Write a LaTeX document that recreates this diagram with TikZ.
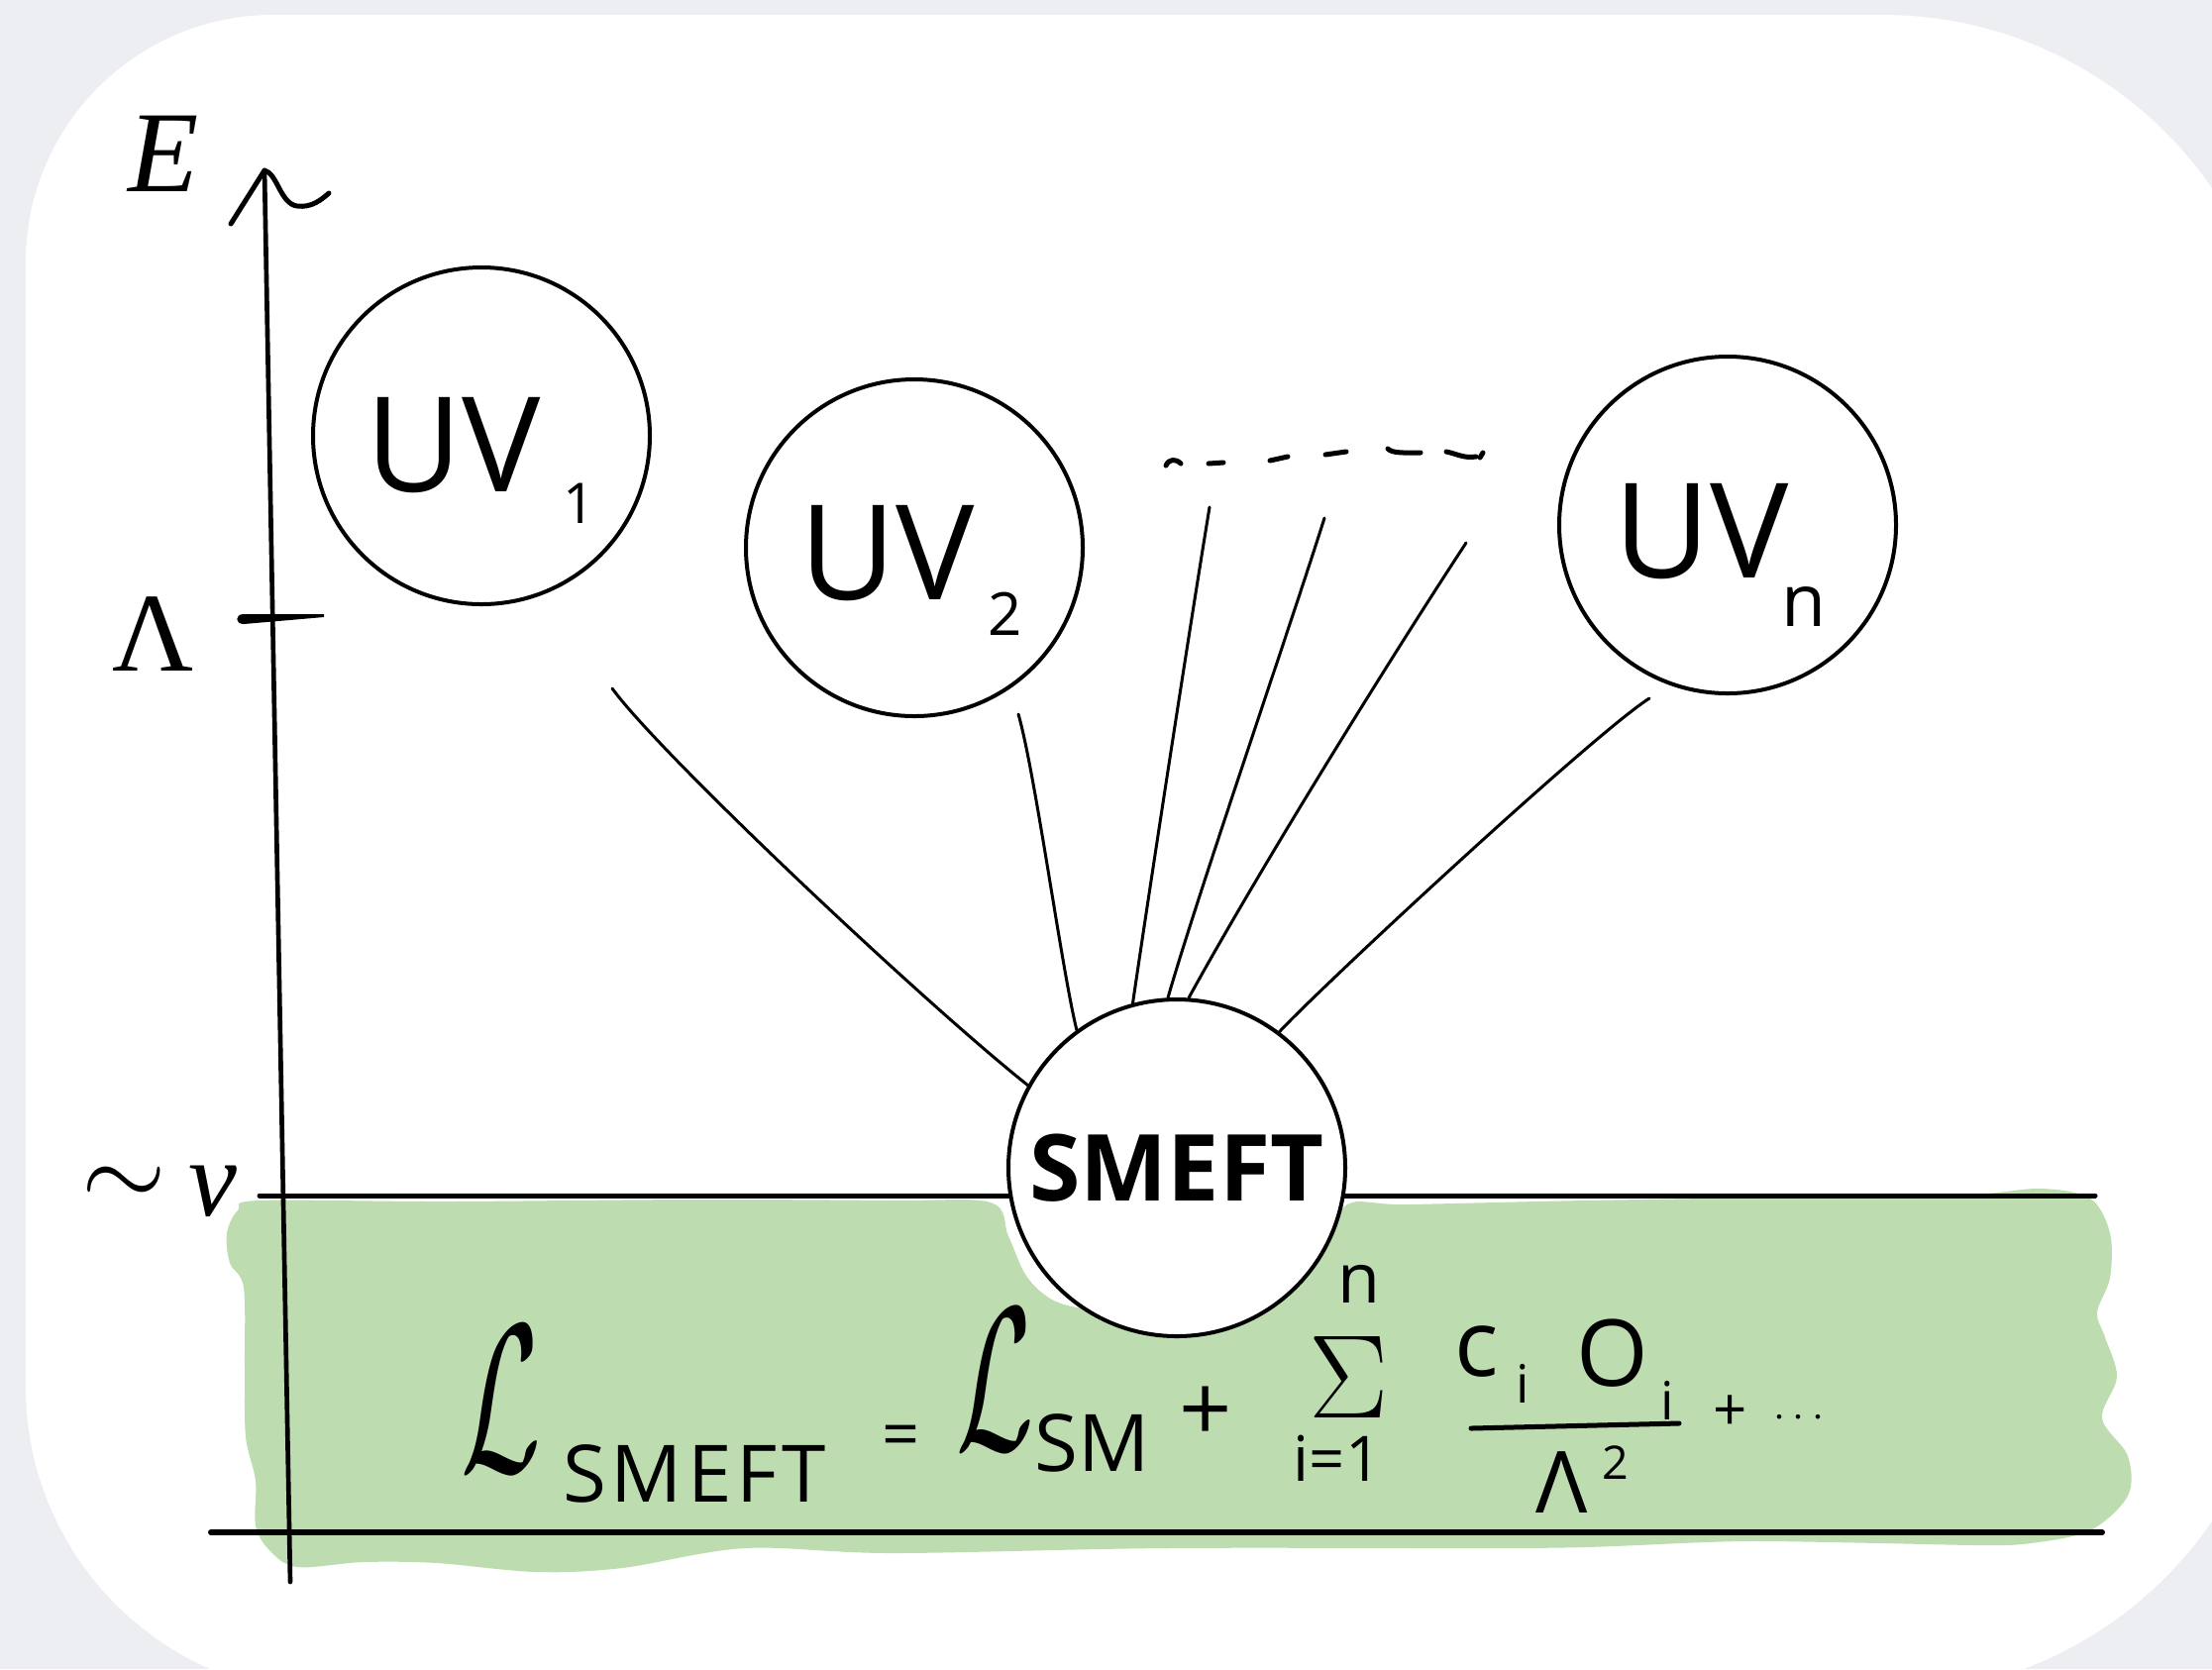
\RequirePackage{fix-cm}
\documentclass[tikz,border=0pt]{standalone}
\usepackage{graphicx}
\usepackage{fontspec}
\setmainfont{Liberation Serif}
\setsansfont{Open Sans}
\definecolor{pagebg}{RGB}{237,238,242}
\definecolor{bandgreen}{RGB}{189,221,177}
\begin{document}
\begin{tikzpicture}[x=0.3pt,y=-0.3pt,
  ring/.style={circle, draw, line width=1.2pt, fill=white, minimum size=102pt, inner sep=0pt},
  conn/.style={line width=0.9pt, line cap=round},
  ink/.style={line width=1.5pt, line cap=round, line join=round},
  hand/.style={inner sep=0pt},
  serif/.style={inner sep=0pt}]

\useasboundingbox (0,0) rectangle (2233,1685);
\clip (0,0) rectangle (2233,1685);

% page and card
\fill[pagebg] (0,0) rectangle (2233,1685);
\fill[white] (26,265) arc[start angle=180,end angle=270,radius=250]
  -- (1900,15) arc[start angle=270,end angle=360,radius=404]
  -- (2304,1307) arc[start angle=0,end angle=90,radius=404]
  -- (337,1711) arc[start angle=90,end angle=180,radius=311] -- cycle;

% low-energy band
\fill[bandgreen] plot[smooth cycle, tension=0.55] coordinates {
  (262,1212) (450,1213) (700,1211) (900,1212) (1000,1214) (1018,1248)
  (1036,1288) (1062,1312) (1100,1322) (1188,1330) (1290,1310) (1335,1262)
  (1360,1216) (1420,1216) (1600,1212) (1850,1208) (1990,1206) (2060,1200)
  (2110,1210) (2130,1245) (2130,1290) (2117,1325) (2125,1350) (2137,1390)
  (2122,1432) (2148,1470) (2148,1510) (2110,1545) (2050,1558) (2000,1560)
  (1900,1558) (1784,1556) (1722,1557) (1600,1562) (1486,1563) (1175,1563)
  (901,1568) (752,1563) (628,1583) (541,1587) (441,1578) (367,1577)
  (300,1582) (272,1565) (258,1540) (258,1495) (248,1450) (247,1380)
  (246,1300) (232,1275) (229,1245) (240,1222)};

% scale lines
\coordinate (vL) at (262,1207);
\coordinate (vR) at (2115,1207);
\coordinate (bL) at (213,1547);
\coordinate (bR) at (2122,1547);
\draw[line width=1.5pt, line cap=round] (vL) -- (vR);
\draw[line width=1.8pt, line cap=round] (bL) -- (bR);

% energy axis
\coordinate (axbot) at (293,1597);
\coordinate (axtop) at (267,172);
\draw[line width=1.4pt, line cap=round] (axbot) -- (axtop);
\draw[ink] (233,226) -- (axtop) .. controls (280,175) and (283,206) .. (300,208)
  .. controls (315,210) and (325,201) .. (332,195);
% cutoff tick
\fill (327,620) -- (246,620) .. controls (237,620) and (237,630) .. (246,630) -- (327,623) -- cycle;

% axis labels
\node[serif, font=\itshape\fontsize{35}{40}\selectfont] (elab) at (165,155) {E};
\node[serif, font=\fontsize{34}{40}\selectfont] (lamlab) at (155,640) {Λ};
\node[serif, font=\fontsize{33}{36}\selectfont] (simlab) at (125,1198) {$\sim$};
\node[serif, font=\itshape\fontsize{33}{40}\selectfont] (vlab) at (215,1203) {v};

% theories
\node[ring] (uv1) at (486,440) {};
\node[ring] (uv2) at (923,553) {};
\node[ring] (uvn) at (1744,530) {};
\node[ring, font=\sffamily\bfseries\fontsize{28}{34}\selectfont] (smeft) at (1188,1179) {SMEFT};

\node[hand, font=\sffamily\fontsize{40}{48}\selectfont] (uv1t) at (458,450) {UV};
\node[hand, font=\sffamily\fontsize{17}{20}\selectfont] (uv1s) at (585,508) {1};
\node[hand, font=\sffamily\fontsize{40}{48}\selectfont] (uv2t) at (896,559) {UV};
\node[hand, font=\sffamily\fontsize{18}{20}\selectfont] (uv2s) at (1015,620) {2};
\node[hand, font=\sffamily\fontsize{40}{48}\selectfont] (uvnt) at (1718,537) {UV};
\node[hand, font=\sffamily\fontsize{22}{24}\selectfont] (uvns) at (1821,612) {n};

% matching lines
\coordinate (s1) at (618,695);
\coordinate (s2) at (1028,721);
\coordinate (s3) at (1221,512);
\coordinate (s4) at (1337,523);
\coordinate (s5) at (1480,548);
\coordinate (s6) at (1665,705);
\draw[conn] (s1) .. controls (665,760) and (930,1010) .. (smeft.151);
\draw[conn] (s2) .. controls (1045,780) and (1072,980) .. (smeft.126);
\draw[conn] (s3) .. controls (1200,640) and (1160,900) .. (smeft.105);
\draw[conn] (s4) .. controls (1300,640) and (1210,900) .. (smeft.93);
\draw[conn] (s5) .. controls (1400,670) and (1270,880) .. (smeft.86);
\draw[conn] (s6) .. controls (1610,740) and (1340,990) .. (smeft.53);

% further UV completions
\draw[ink] (1177,470) .. controls (1180,463) and (1187,463) .. (1192,468);
\draw[ink] (1220,468) -- (1235,467);
\draw[ink] (1282,465) -- (1300,461);
\draw[ink] (1338,459) -- (1359,456);
\draw[ink] (1401,453) .. controls (1405,458) and (1420,457) .. (1434,457);
\draw[ink] (1460,456) .. controls (1470,458) and (1478,463) .. (1490,461);
\draw[ink] (1494,462) -- (1497,457);

% effective Lagrangian
\node[hand, font=\fontsize{64}{70}\selectfont] (lag) at (506,1413) {\scalebox{0.55}[1]{$\mathcal{L}$}};
\node[hand, font=\sffamily\fontsize{24}{28}\selectfont] (lagsub) at (701,1488) {\addfontfeature{LetterSpace=6}SMEFT};
\node[hand, font=\sffamily\fontsize{20}{24}\selectfont] (eq) at (910,1455) {=};
\node[hand, font=\fontsize{62}{70}\selectfont] (lagsm) at (1005,1393) {\scalebox{0.55}[1]{$\mathcal{L}$}};
\node[hand, font=\sffamily\fontsize{24}{28}\selectfont] (smsub) at (1103,1457) {SM};
\node[hand, font=\sffamily\fontsize{28}{32}\selectfont] (plus) at (1217,1428) {+};
\node[hand, font=\fontsize{36}{40}\selectfont] (sum) at (1362,1390) {$\Sigma$};
\node[hand, font=\sffamily\fontsize{21}{24}\selectfont] (sumtop) at (1372,1296) {n};
\node[hand, font=\sffamily\fontsize{19}{22}\selectfont] (sumbot) at (1350,1472) {i=1};
\node[hand, font=\sffamily\fontsize{28}{32}\selectfont] (numc) at (1491,1364) {c};
\node[hand, font=\sffamily\fontsize{16}{18}\selectfont] (numci) at (1537,1397) {i};
\node[hand, font=\sffamily\fontsize{28}{32}\selectfont] (numo) at (1628,1366) {O};
\node[hand, font=\sffamily\fontsize{16}{18}\selectfont] (numoi) at (1683,1414) {i};
\coordinate (barL) at (1485,1442);
\coordinate (barR) at (1695,1437);
\draw[ink] (barL) -- (barR);
\node[hand, font=\sffamily\fontsize{26}{30}\selectfont] (den) at (1577,1497) {Λ};
\node[hand, font=\sffamily\fontsize{14}{16}\selectfont] (densq) at (1631,1477) {2};
\node[hand, font=\sffamily\fontsize{18}{20}\selectfont] (plus2) at (1747,1427) {+};
\node[hand, font=\fontsize{13}{16}\selectfont] (dots) at (1816,1432) {$\cdots$};

\end{tikzpicture}
\end{document}
